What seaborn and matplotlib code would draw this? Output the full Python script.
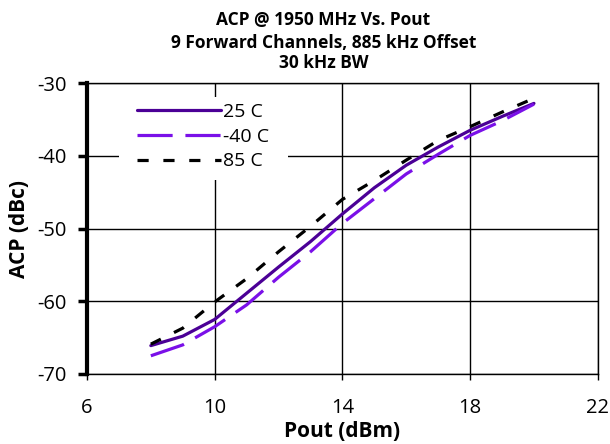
import numpy as np
import pandas as pd
import matplotlib
matplotlib.use("Agg")
import matplotlib.pyplot as plt
from matplotlib.patches import Rectangle
import seaborn as sns

# data
pout = [8, 9, 10, 11, 12, 13, 14, 15, 16, 17, 18, 19, 20]
acp_25 = [-66.1, -64.8, -62.5, -58.9, -55.3, -51.8, -48.0, -44.4, -41.3, -38.8, -36.5, -34.6, -32.8]
acp_m40 = [-67.5, -66.0, -63.5, -60.5, -56.7, -53.2, -49.3, -45.9, -42.5, -39.8, -37.2, -35.2, -32.9]
acp_85 = [-65.9, -63.7, -60.1, -56.9, -53.2, -49.7, -46.0, -43.4, -40.6, -37.9, -36.0, -34.0, -32.1]

labels = ["25 C", "-40 C", "85 C"]
series = [acp_25, acp_m40, acp_85]
colors = ["#4B0096", "#7A10E8", "#000000"]
dashes = [None, (11, 4), (3.5, 4.6)]

sns.set_style("white")
plt.rcParams['font.family'] = ['Open Sans', 'DejaVu Sans']
plt.rcParams['axes.unicode_minus'] = False
plt.rcParams['text.color'] = 'black'
plt.rcParams['axes.labelcolor'] = 'black'
plt.rcParams['xtick.color'] = 'black'
plt.rcParams['ytick.color'] = 'black'

fig = plt.figure(figsize=(6.1, 4.44), dpi=100)
ax = fig.add_axes([0.1426, 0.1577, 0.8374, 0.6553])

for lab, vals, col, d in zip(labels, series, colors, dashes):
    df = pd.DataFrame({"Pout": pout, "ACP": vals})
    sns.lineplot(data=df, x="Pout", y="ACP", ax=ax, color=col, lw=2.3, label=lab)
    if d is not None:
        ax.lines[-1].set_dashes(d)

ax.set_xlim(6, 22)
ax.set_ylim(-70, -30)
ax.set_xticks([6, 10, 14, 18, 22])
ax.set_yticks([-70, -60, -50, -40, -30])
ax.grid(True, color="black", lw=1.0)
ax.set_axisbelow(True)

for s in ["top", "right", "bottom"]:
    ax.spines[s].set_color("black")
    ax.spines[s].set_linewidth(1.0)
ax.spines["left"].set_color("black")
ax.spines["left"].set_linewidth(3)

ax.tick_params(axis="y", direction="out", length=6.5, width=2.5, colors="black", labelsize=14.5, pad=8, left=True)
ax.tick_params(axis="x", direction="out", length=4.3, width=1, colors="black", labelsize=14.5, pad=13, bottom=True)

ax.set_xlabel("Pout (dBm)", fontsize=15, fontweight="bold", labelpad=2, color="black")
ax.set_ylabel("ACP (dBc)", fontsize=15, fontweight="bold", labelpad=5, color="black")

# white box behind the legend, hiding the grid
ax.add_patch(Rectangle((0.0626, 0.667), 0.33, 0.285, transform=ax.transAxes,
                       facecolor="white", edgecolor="none", zorder=1))

leg = ax.legend(loc="upper left", bbox_to_anchor=(0.098, 0.931), frameon=False, fontsize=14,
                handlelength=4.3, handletextpad=0.1, labelspacing=0.34, borderpad=0,
                borderaxespad=0)
for t in leg.get_texts():
    t.set_color("black")

for y, txt in zip([0.943, 0.893, 0.846],
                  ["ACP @ 1950 MHz Vs. Pout", "9 Forward Channels, 885 kHz Offset", "30 kHz BW"]):
    fig.text(0.53, y, txt, ha="center", va="baseline", fontsize=12.5, fontweight="bold", color="black")

fig.savefig("out.png", dpi=100)
